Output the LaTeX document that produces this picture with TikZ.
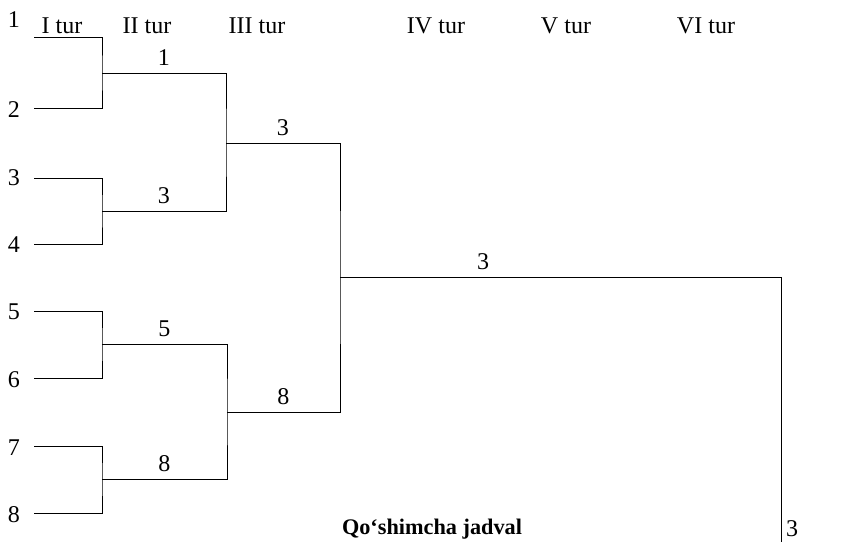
\documentclass[tikz,border=0pt]{standalone}
\usepackage{fontspec}
\setmainfont{Liberation Serif}
\usetikzlibrary{positioning,calc}

\begin{document}
\begin{tikzpicture}[
  x=0.03cm, y=-0.03cm,
  font=\fontsize{20.5}{23}\selectfont,
  bracket/.style={line width=0.8pt},
  score/.style={inner sep=0pt, anchor=south}
]
\useasboundingbox (0,0) rectangle (843,542);

\node (t1) at (62,26) {I tur};
\node (t2) at (147,26) {II tur};
\node (t3) at (257,26) {III tur};
\node (t4) at (436,26) {IV tur};
\node (t5) at (566,26) {V tur};
\node (t6) at (706,26) {VI tur};

\node (p1) at (14,20) {1};
\node (p2) at (14,110) {2};
\node (p3) at (14,178) {3};
\node (p4) at (14,245) {4};
\node (p5) at (14,312) {5};
\node (p6) at (14,380) {6};
\node (p7) at (14,448) {7};
\node (p8) at (14,515) {8};

\coordinate (s1) at (34,37);
\coordinate (s2) at (34,108);
\coordinate (s3) at (34,178);
\coordinate (s4) at (34,244);
\coordinate (s5) at (34,311);
\coordinate (s6) at (34,378);
\coordinate (s7) at (34,446);
\coordinate (s8) at (34,513);
\coordinate (j12) at (102,73);
\coordinate (j34) at (102,211);
\coordinate (j56) at (102,344);
\coordinate (j78) at (102,479);
\coordinate (k14) at (226,143);
\coordinate (k58) at (227,412);
\coordinate (fin) at (340,277);
\coordinate (e) at (781,542);

\draw[bracket] (s1) -| (j12) |- (s2);
\draw[bracket] (s3) -| (j34) |- (s4);
\draw[bracket] (s5) -| (j56) |- (s6);
\draw[bracket] (s7) -| (j78) |- (s8);
\draw[bracket] (j12) -| (k14) |- (j34);
\draw[bracket] (j56) -| (k58) |- (j78);
\draw[bracket] (k14) -| (fin) |- (k58);
\draw[bracket] (fin) -| (e);

\node[score, above=6pt of {$(j12)!0.5!(j12 -| k14)$}] (w12) {1};
\node[score, above=6pt of {$(j34)!0.5!(j34 -| k14)$}] (w34) {3};
\node[score, above=6pt of {$(j56)!0.5!(j56 -| k58)$}] (w56) {5};
\node[score, above=6pt of {$(j78)!0.5!(j78 -| k58)$}] (w78) {8};
\node[score, above=6pt of {$(k14)!0.5!(k14 -| fin)$}] (w14) {3};
\node[score, above=6pt of {$(k58)!0.5!(k58 -| fin)$}] (w58) {8};
\node[score, above=6pt of {$(fin)+(143,0)$}] (w18) {3};
\node[anchor=west, inner sep=0pt] (wf) at (786,529) {3};

\node[font=\fontsize{19}{21}\selectfont\bfseries] (extra) at (432,529) {Qo‘shimcha jadval};
\end{tikzpicture}
\end{document}
